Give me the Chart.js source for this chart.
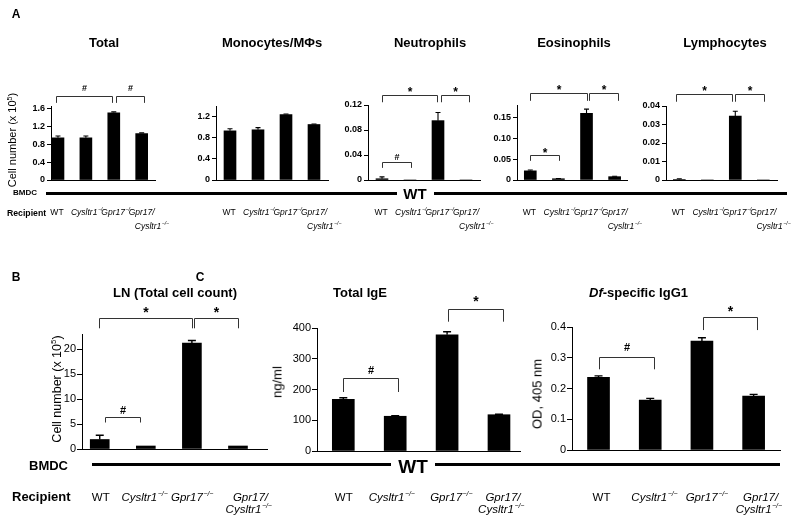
<!DOCTYPE html>
<html lang="en">
<head>
<meta charset="UTF-8">
<title>BMDC transfer - cell counts and Ig levels</title>
<script src="https://cdn.jsdelivr.net/npm/chart.js@4.4.1/dist/chart.umd.min.js"></script>
<style>
    body { margin: 0; background: #fff; font-family: 'Liberation Sans', Arial, sans-serif; }
    #fig { position: relative; width: 800px; height: 523px; overflow: hidden; }
    #fig canvas { position: absolute; left: 0; top: 0; }
    .t { position: absolute; white-space: nowrap; color: #000; line-height: 1; transform: translate(-50%, -50%); }
    .l { transform: translate(0, -50%); }
    .b { font-weight: bold; }
    .rot { transform: translate(-50%, -50%) rotate(-90deg); }
    .line { position: absolute; background: #000; }
</style>
</head>
<body>
<div id="fig">
    <canvas id="cTotal" width="800" height="523"></canvas>
    <canvas id="cMono" width="800" height="523"></canvas>
    <canvas id="cNeutro" width="800" height="523"></canvas>
    <canvas id="cEos" width="800" height="523"></canvas>
    <canvas id="cLymph" width="800" height="523"></canvas>
    <canvas id="cLN" width="800" height="523"></canvas>
    <canvas id="cIgE" width="800" height="523"></canvas>
    <canvas id="cIgG1" width="800" height="523"></canvas>

    <!-- panel A -->
    <div class="t b" style="left:16px;top:14px;font-size:12px">A</div>
    <div class="t b" style="left:104px;top:42px;font-size:13px">Total</div>
    <div class="t b" style="left:272px;top:42px;font-size:13px">Monocytes/MΦs</div>
    <div class="t b" style="left:430px;top:42px;font-size:13px">Neutrophils</div>
    <div class="t b" style="left:574px;top:42px;font-size:13px">Eosinophils</div>
    <div class="t b" style="left:725px;top:42px;font-size:13px">Lymphocytes</div>
    <div class="t rot" style="left:12px;top:140px;font-size:11px">Cell number (x 10<sup style="font-size:7px">5</sup>)</div>
    <div class="t l b" style="left:13px;top:193px;font-size:8px">BMDC</div>
    <div class="line" style="left:46px;top:192px;width:351px;height:3px"></div>
    <div class="t b" style="left:415px;top:193px;font-size:15px">WT</div>
    <div class="line" style="left:434px;top:192px;width:353px;height:3px"></div>
    <div class="t l b" style="left:7px;top:213px;font-size:8.7px">Recipient</div>

    <!-- panels B and C -->
    <div class="t b" style="left:16px;top:277px;font-size:12px">B</div>
    <div class="t b" style="left:200px;top:277px;font-size:12px">C</div>
    <div class="t b" style="left:175px;top:292px;font-size:13px">LN (Total cell count)</div>
    <div class="t l b" style="left:333px;top:292px;font-size:13px">Total IgE</div>
    <div class="t l b" style="left:589px;top:292px;font-size:13px"><i>Df</i>-specific IgG1</div>
    <div class="t rot" style="left:57px;top:389px;font-size:12.5px">Cell number (x 10<sup style="font-size:8px">5</sup>)</div>
    <div class="t rot" style="left:277px;top:382px;font-size:13px">ng/ml</div>
    <div class="t rot" style="left:537px;top:394px;font-size:13px">OD, 405 nm</div>
    <div class="t l b" style="left:29px;top:465px;font-size:13px">BMDC</div>
    <div class="line" style="left:92px;top:463px;width:299px;height:3px"></div>
    <div class="t b" style="left:413px;top:466px;font-size:19px">WT</div>
    <div class="line" style="left:435px;top:463px;width:345px;height:3px"></div>
    <div class="t l b" style="left:12px;top:496px;font-size:13px">Recipient</div>
</div>

<script>
    // recipients (same for every panel)
    const categories = ['WT', 'Cysltr1−/−', 'Gpr17−/−', 'Gpr17/Cysltr1−/−'];

    // A: BAL cell numbers (x 10^5), mean and SEM
    const totalCells = [0.94, 0.94, 1.50, 1.035];
    const totalSem   = [0.04, 0.04, 0.02, 0.015];
    const monoCells  = [0.93, 0.95, 1.24, 1.05];
    const monoSem    = [0.04, 0.04, 0.01, 0.01];
    const neutroCells = [0.002, 0, 0.095, 0];
    const neutroSem   = [0.003, 0, 0.013, 0];
    const eosCells   = [0.022, 0.003, 0.160, 0.008];
    const eosSem     = [0.002, 0.0005, 0.010, 0.001];
    const lymphCells = [0.0003, 0, 0.0345, 0];
    const lymphSem   = [0.0004, 0, 0.0027, 0];

    // B: LN total cell count (x 10^5)
    const lnCells = [1.9, 0.6, 21.2, 0.6];
    const lnSem   = [0.85, 0, 0.5, 0];

    // C: serum Ig
    const totalIgE = [168, 113, 378, 118];
    const igeSem   = [5, 2, 10, 1.5];
    const dfIgG1   = [0.236, 0.162, 0.354, 0.175];
    const igg1Sem  = [0.005, 0.006, 0.011, 0.006];

    // tick labels
    const totalTicks  = ['0', '0.4', '0.8', '1.2', '1.6'];
    const monoTicks   = ['0', '0.4', '0.8', '1.2'];
    const neutroTicks = ['0', '0.04', '0.08', '0.12'];
    const eosTicks    = ['0', '0.05', '0.10', '0.15'];
    const lymphTicks  = ['0', '0.01', '0.02', '0.03', '0.04'];
    const lnTicks     = ['0', '5', '10', '15', '20'];
    const igeTicks    = ['0', '100', '200', '300', '400'];
    const igg1Ticks   = ['0', '0.1', '0.2', '0.3', '0.4'];

    const FONT = "'Liberation Sans', Arial, sans-serif";
    const YW = 30;

    function drawGene(ctx, s, x, y, px) {
        const m = s.match(/^(.*?)(−\/−)?$/);
        const base = m[1], sup = m[2] || '';
        const st = base === 'WT' ? '' : 'italic ';
        const f1 = st + px + 'px ' + FONT, f2 = st + (px * 0.6) + 'px ' + FONT;
        ctx.font = f1;
        const w1 = ctx.measureText(base).width;
        ctx.font = f2;
        const w2 = sup ? ctx.measureText(sup).width : 0;
        const x0 = x - (w1 + w2) / 2;
        ctx.textAlign = 'left';
        ctx.textBaseline = 'middle';
        ctx.font = f1;
        ctx.fillText(base, x0, y);
        if (sup) {
            ctx.font = f2;
            ctx.fillText(sup, x0 + w1 + 0.5, y - px * 0.35);
        }
    }

    function drawMark(ctx, mark, x, cy, big) {
        ctx.textAlign = 'center';
        ctx.textBaseline = 'alphabetic';
        if (mark === '*') {
            const px = big ? 14 : 12;
            ctx.font = 'bold ' + px + 'px ' + FONT;
            ctx.fillText('*', x, cy + px * 0.55);
        } else {
            const px = big ? 11 : 9;
            ctx.font = 'bold ' + px + 'px ' + FONT;
            ctx.fillText('#', x, cy + px * 0.36);
        }
    }

    // error bars, significance brackets, recipient labels
    function makeExtras(o) {
        return {
            id: 'extras',
            afterDraw(chart) {
                const ctx = chart.ctx, xs = chart.scales.x, ys = chart.scales.y;
                ctx.save();
                ctx.fillStyle = '#000';
                ctx.strokeStyle = '#000';
                ctx.lineWidth = o.big ? 1.4 : 1.1;
                o.values.forEach((v, i) => {
                    if (!o.sem[i]) return;
                    const x = xs.getPixelForValue(i);
                    const y1 = ys.getPixelForValue(v), y2 = ys.getPixelForValue(v + o.sem[i]);
                    ctx.beginPath();
                    ctx.moveTo(x, y1); ctx.lineTo(x, y2);
                    ctx.moveTo(x - o.cap, y2); ctx.lineTo(x + o.cap, y2);
                    ctx.stroke();
                });

                ctx.strokeStyle = '#333';
                ctx.lineWidth = 1;
                o.brackets.forEach(b => {
                    const x1 = Math.round(xs.getPixelForValue(b.x1)) + 0.5;
                    const x2 = Math.round(xs.getPixelForValue(b.x2)) + 0.5;
                    const yt = Math.round(ys.getPixelForValue(b.y)) + 0.5;
                    const yd = ys.getPixelForValue(b.drop);
                    ctx.beginPath();
                    ctx.moveTo(x1, yd); ctx.lineTo(x1, yt); ctx.lineTo(x2, yt); ctx.lineTo(x2, yd);
                    ctx.stroke();
                    drawMark(ctx, b.mark, (x1 + x2) / 2, yt - b.gap, o.big);
                });

                categories.forEach((c, i) => {
                    const x = xs.getPixelForValue(i);
                    const parts = c.split(/(?<=\/)(?=[A-Z])/);
                    drawGene(ctx, parts[0], x + o.shift[i], o.labY[0], o.labPx);
                    if (parts[1]) drawGene(ctx, parts[1], x + o.shift[4], o.labY[1], o.labPx);
                });
                ctx.restore();
            }
        };
    }

    function barChart(id, o) {
        const [l, t, r, btm] = o.area;
        return new Chart(document.getElementById(id), {
            type: 'bar',
            data: {
                datasets: [{
                    data: o.values.map((v, i) => ({ x: i, y: v })),
                    backgroundColor: '#000',
                    borderWidth: 0,
                    barThickness: o.barW
                }]
            },
            options: {
                responsive: false,
                animation: false,
                events: [],
                layout: { autoPadding: false, padding: { left: l - YW, top: t, right: 800 - r, bottom: 523 - btm } },
                plugins: { legend: { display: false }, tooltip: { enabled: false } },
                scales: {
                    x: {
                        type: 'linear', min: o.xr[0], max: o.xr[1], offset: false,
                        ticks: { display: false },
                        grid: { display: false },
                        border: { display: true, color: '#000', width: 1 },
                        afterFit: s => { s.height = 0; }
                    },
                    y: {
                        min: 0, max: o.yMax,
                        afterFit: s => { s.width = YW; },
                        afterBuildTicks: s => { s.ticks = o.ticks.map(v => ({ value: parseFloat(v) })); },
                        ticks: {
                            autoSkip: false,
                            callback: (v, i) => o.ticks[i],
                            color: '#000',
                            padding: o.big ? 1 : 2,
                            font: o.big ? { size: 11 } : { size: 9, weight: 'bold' }
                        },
                        grid: { display: true, drawOnChartArea: false, drawTicks: true, tickLength: o.big ? 5 : 4, tickColor: '#000', color: '#000' },
                        border: { display: true, color: '#000', width: 1 }
                    }
                }
            },
            plugins: [makeExtras(o)]
        });
    }

    const topLab = { labY: [213, 227], labPx: 8.5, shift: [-1, 2, 3, 0, 10], cap: 2.5, barW: 12, big: false };
    const botLab = { labY: [498, 510], labPx: 11.5, cap: 4, big: true };

    document.addEventListener('DOMContentLoaded', () => {
        barChart('cTotal', { ...topLab, values: totalCells, sem: totalSem, ticks: totalTicks, yMax: 1.65,
            area: [51, 106, 155, 180], xr: [-0.25, 3.477],
            brackets: [
                { x1: -0.08, x2: 1.94, y: 1.87, drop: 1.72, mark: '#', gap: 9 },
                { x1: 2.07, x2: 3.09, y: 1.87, drop: 1.72, mark: '#', gap: 9 }
            ] });
        barChart('cMono', { ...topLab, values: monoCells, sem: monoSem, ticks: monoTicks, yMax: 1.4,
            area: [216, 106, 328, 180], xr: [-0.5, 3.5], brackets: [] });
        barChart('cNeutro', { ...topLab, values: neutroCells, sem: neutroSem, ticks: neutroTicks, yMax: 0.12,
            area: [368, 105, 480, 180], xr: [-0.5, 3.5],
            brackets: [
                { x1: 0, x2: 1.98, y: 0.136, drop: 0.1244, mark: '*', gap: 6 },
                { x1: 2.1, x2: 3.1, y: 0.136, drop: 0.1244, mark: '*', gap: 6 },
                { x1: 0, x2: 1.04, y: 0.0284, drop: 0.0194, mark: '#', gap: 6 }
            ] });
        barChart('cEos', { ...topLab, values: eosCells, sem: eosSem, ticks: eosTicks, yMax: 0.18,
            area: [517, 105, 627, 180], xr: [-0.473, 3.44],
            brackets: [
                { x1: 0, x2: 2.02, y: 0.2085, drop: 0.19, mark: '*', gap: 6 },
                { x1: 2.1, x2: 3.13, y: 0.2085, drop: 0.19, mark: '*', gap: 6 },
                { x1: 0, x2: 1.03, y: 0.059, drop: 0.046, mark: '*', gap: 5 }
            ] });
        barChart('cLymph', { ...topLab, values: lymphCells, sem: lymphSem, ticks: lymphTicks, yMax: 0.04,
            area: [666, 106, 777, 180], xr: [-0.475, 3.49],
            brackets: [
                { x1: -0.1, x2: 1.89, y: 0.0463, drop: 0.0423, mark: '*', gap: 6 },
                { x1: 1.98, x2: 3.02, y: 0.0463, drop: 0.0423, mark: '*', gap: 6 }
            ] });

        barChart('cLN', { ...botLab, values: lnCells, sem: lnSem, ticks: lnTicks, yMax: 23, barW: 19,
            area: [82, 334, 267, 449], xr: [-0.385, 3.63], shift: [1, -1.5, 0, 12.5, 10.5],
            brackets: [
                { x1: -0.01, x2: 2.0, y: 26.14, drop: 24.14, mark: '*', gap: 9 },
                { x1: 2.05, x2: 3.0, y: 26.14, drop: 24.14, mark: '*', gap: 9 },
                { x1: 0.115, x2: 0.88, y: 6.46, drop: 5.3, mark: '#', gap: 7 }
            ] });
        barChart('cIgE', { ...botLab, values: totalIgE, sem: igeSem, ticks: igeTicks, yMax: 400, barW: 22,
            area: [317, 328, 520, 451], xr: [-0.507, 3.405], shift: [0.5, -3.7, 4, 4, 2],
            brackets: [
                { x1: 0, x2: 1.06, y: 236.4, drop: 191.9, mark: '#', gap: 8 },
                { x1: 2.02, x2: 3.08, y: 460.8, drop: 420.5, mark: '*', gap: 11 }
            ] });
        barChart('cIgG1', { ...botLab, values: dfIgG1, sem: igg1Sem, ticks: igg1Ticks, yMax: 0.4, barW: 22,
            area: [572, 327, 780, 450], xr: [-0.513, 3.51], shift: [3, 4, 4.7, 7, 5],
            brackets: [
                { x1: 0.015, x2: 1.08, y: 0.3034, drop: 0.2624, mark: '#', gap: 10 },
                { x1: 2.02, x2: 3.06, y: 0.4315, drop: 0.390, mark: '*', gap: 9 }
            ] });
    });
</script>
</body>
</html>
